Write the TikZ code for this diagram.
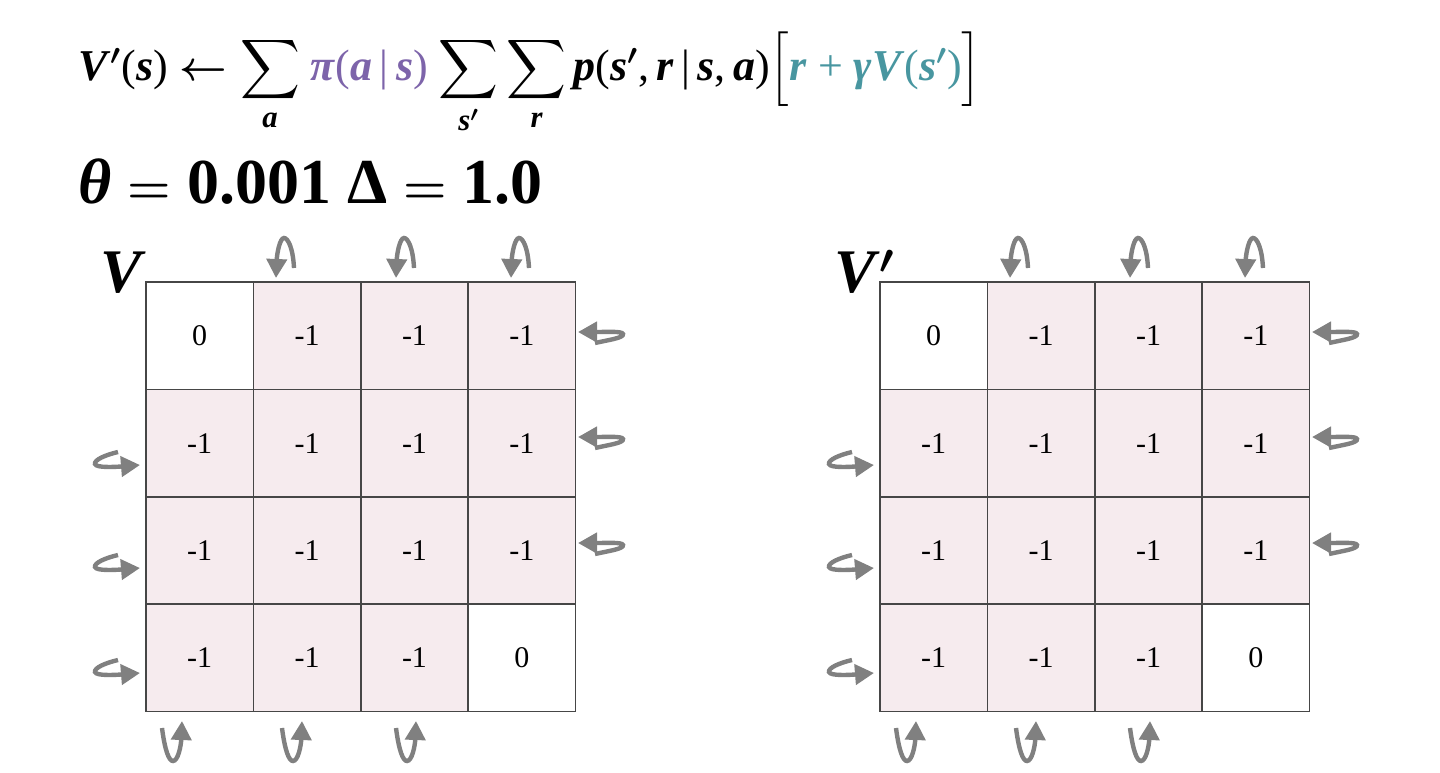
\documentclass[tikz,border=0pt]{standalone}
\usepackage{amsmath}
\usepackage{fontspec}
\setmainfont{Liberation Serif}
\usetikzlibrary{arrows.meta}

\definecolor{cellpink}{RGB}{246,235,238}
\definecolor{gridgray}{RGB}{70,70,70}
\definecolor{loopgray}{RGB}{128,128,128}
\definecolor{policy}{RGB}{125,100,170}
\definecolor{target}{RGB}{72,150,160}

\newcommand{\bi}[1]{\textbf{\textit{#1}}}

\tikzset{
  cell/.style={draw=gridgray, line width=0.7pt, minimum size=53.6pt, inner sep=0pt, font=\fontsize{15}{18}\selectfont},
  loopline/.style={draw=loopgray, line width=2.2pt, -{Triangle[length=9.5pt,width=10pt]}},
  % self-loop arrows, the tip sits at the pic origin
  pics/loopdown/.style={code={\draw[loopline] (18,-10) .. controls (17,-30) and (12,-40) .. (8,-40) .. controls (4,-40) and (1,-25) .. (0,0);}},
  pics/loopup/.style={code={\draw[loopline] (-20,7) .. controls (-17,30) and (-13,40) .. (-9,40) .. controls (-4,40) and (-1,25) .. (0,0);}},
  pics/loopleft/.style={code={\draw[loopline] (17,11) .. controls (30,8) and (46,6) .. (45,2) .. controls (44,-1) and (30,0) .. (0,0);}},
  pics/loopright/.style={code={\draw[loopline] (-22,-13) .. controls (-35,-10) and (-46,-5) .. (-45,-1) .. controls (-44,3) and (-25,2) .. (0,0);}}
}

\begin{document}
\begin{tikzpicture}[x=0.5pt, y=-0.5pt]
    \useasboundingbox (0,0) rectangle (1440,772);
    % update rule and parameters
    \node[anchor=base west, inner sep=0pt, font=\fontsize{22}{26}\selectfont\boldmath] (rule) at (78,80)
        {\bi{V}$'$(\bi{s}) $\leftarrow \displaystyle\sum_{\text{\bi{a}}}$ \textcolor{policy}{\bi{π}(\bi{a}\,|\,\bi{s})} $\displaystyle\sum_{\text{\bi{s}}'}\sum_{\text{\bi{r}}}$\,\bi{p}(\bi{s}$'$,\,\bi{r}\,|\,\bi{s},\,\bi{a})$\Big[$\textcolor{target}{\bi{r} + \bi{γ}\bi{V}(\bi{s}$'$)}$\Big]$};
    \node[anchor=base west, inner sep=0pt, font=\fontsize{32}{38}\selectfont\bfseries\boldmath] (params) at (78,203)
        {\bi{θ} $=$ 0.001 Δ $=$ 1.0};
    % two value grids
    \foreach \gx/\g/\lab in {146/L/{\bi{V}}, 880/R/{\bi{V}$'$}} {
        \node[anchor=base west, inner sep=0pt, font=\fontsize{31}{36}\selectfont\boldmath] (\g-name) at (\gx-46,292) {\lab};
        \foreach \r in {1,...,4}
            \foreach \c in {1,...,4} {
                \pgfmathtruncatemacro\corner{((\r==1 && \c==1) || (\r==4 && \c==4)) ? 1 : 0}
                \ifnum\corner=1
                    \node[cell, fill=white] (\g-\r-\c) at (\gx+107.4*\c-53.7, 282+107.4*\r-53.7) {0};
                \else
                    \node[cell, fill=cellpink] (\g-\r-\c) at (\gx+107.4*\c-53.7, 282+107.4*\r-53.7) {-1};
                \fi
            }
        % walls bounce the agent back
        \foreach \dx in {130,250,365}
            \pic at (\gx+\dx,278) {loopdown};
        \foreach \dx in {36,156,270}
            \pic at (\gx+\dx,721) {loopup};
        \foreach \y in {332,437,543}
            \pic at (\gx+432,\y) {loopleft};
        \foreach \y in {465,568,673}
            \pic at (\gx-6,\y) {loopright};
    }
\end{tikzpicture}
\end{document}
